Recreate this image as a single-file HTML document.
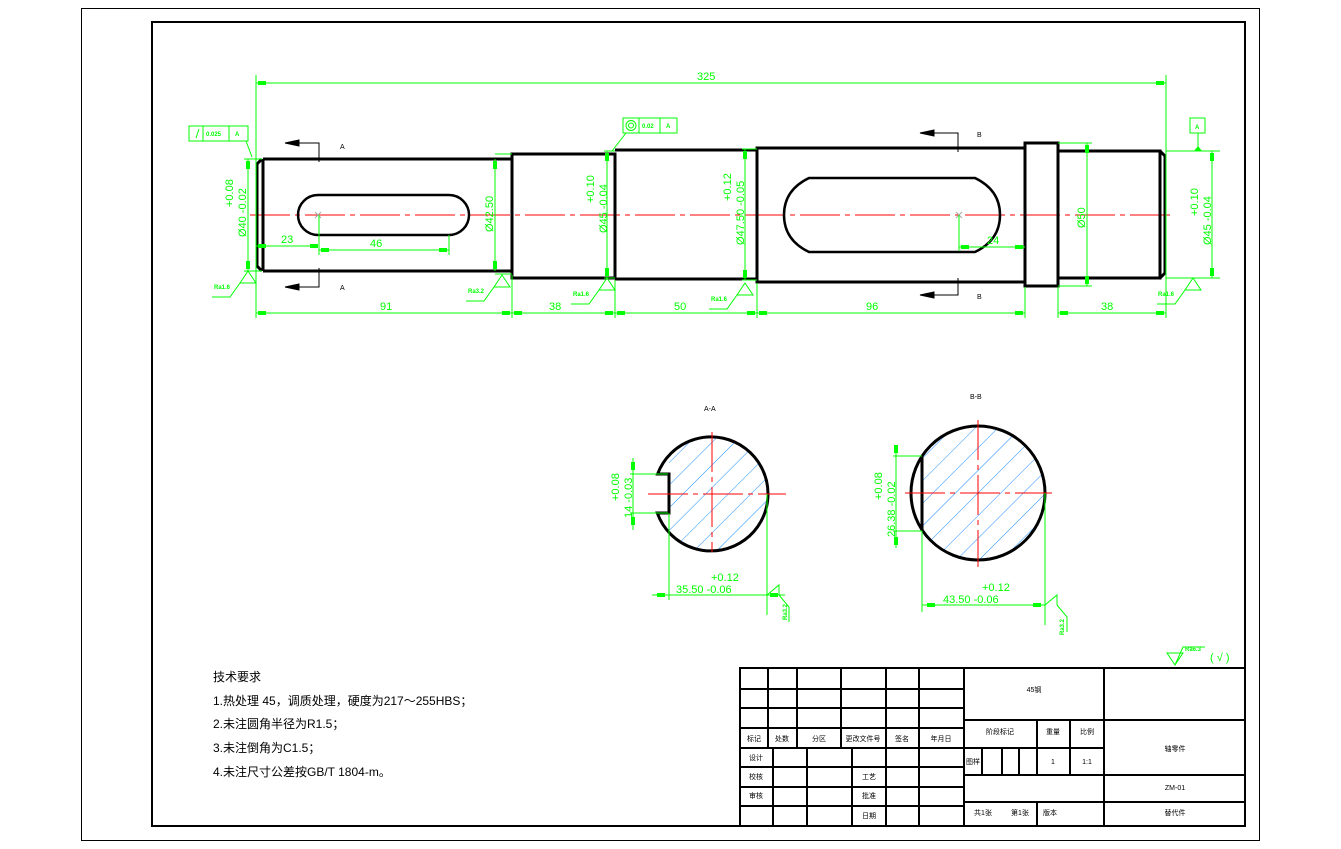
<!DOCTYPE html>
<html><head><meta charset="utf-8"><style>
html,body{margin:0;padding:0;background:#fff;}
svg{display:block;}
.g{stroke:#00ff00;stroke-width:1;fill:none;}
.gt{fill:#00ff00;font-family:"Liberation Sans","Noto Sans CJK SC",sans-serif;font-size:11px;}
.st{fill:#00ff00;font-family:"Liberation Sans",sans-serif;font-size:6px;font-weight:bold;}
.k{stroke:#000;stroke-width:3;fill:none;}
.kt{fill:#000;font-family:"Liberation Sans","Noto Sans CJK SC",sans-serif;font-size:7px;}
.c{stroke:#ff0000;stroke-width:1;stroke-dasharray:40 5 5 5;fill:none;}
.tb{stroke:#000;stroke-width:2;fill:none;}
</style></head><body>
<svg width="1341" height="849" viewBox="0 0 1341 849" xmlns="http://www.w3.org/2000/svg">
<defs>
<pattern id="h" patternUnits="userSpaceOnUse" width="16" height="16" patternTransform="rotate(-45)">
<line x1="0" y1="0" x2="16" y2="0" stroke="#1e90ff" stroke-width="1"/>
</pattern>
<clipPath id="ca"><rect x="669" y="430" width="110" height="130"/></clipPath>
<clipPath id="cb"><rect x="922" y="420" width="130" height="150"/></clipPath>
</defs>
<rect x="0" y="0" width="1341" height="849" fill="#fff"/>
<rect x="81.5" y="8.5" width="1178" height="832" fill="none" stroke="#000" stroke-width="1"/>
<rect x="152" y="22" width="1093" height="804" fill="none" stroke="#000" stroke-width="2"/>

<!-- centerline -->
<line class="c" x1="250" y1="215" x2="1172" y2="215"/>

<!-- shaft -->
<g class="k">
<path d="M263,159 L512,159 M263,271 L512,271 M263,159 L263,271"/>
<path d="M262,159 L257,164 L257,266 L262,271"/>
<path d="M512,154 L615,154 L615,278 L512,278 Z"/>
<path d="M512,154 L512,275"/>
<path d="M615,150 L757,150 L757,279 L615,279"/>
<path d="M757,148 L1025,148 L1025,282 L757,282 Z"/>
<path d="M1025,143 L1058,143 L1058,286 L1025,286 Z"/>
<path d="M1058,151 L1160,151 L1160,278 L1058,278"/>
<path d="M1160,151 L1165,156 L1165,273 L1160,278"/>
<path d="M318,195 L449,195 A20,20 0 0 1 449,235 L318,235 A20,20 0 0 1 318,195 Z" stroke-width="2.5"/>
<path d="M809,178 L975,178 Q1000,190 1000,215 Q1000,240 975,252 L809,252 Q784,240 784,215 Q784,190 809,178 Z" stroke-width="2.5"/>
</g>
<g stroke="#aaa" stroke-width="1"><path d="M315,212 l6,6 M321,212 l-6,6 M956,212 l6,6 M962,212 l-6,6"/></g>

<!-- section arrows -->
<g stroke="#000" stroke-width="1" fill="#000">
<path d="M285,143 L319,143 L319,162 M285,287 L319,287 L319,268 M920,133 L958,133 L958,152 M920,295 L958,295 L958,278" fill="none"/>
<path d="M285,143 l14,-3 l0,6 z M285,287 l14,-3 l0,6 z M920,133 l14,-3 l0,6 z M920,295 l14,-3 l0,6 z"/>
</g>
<text class="kt" x="340" y="149">A</text><text class="kt" x="340" y="290">A</text>
<text class="kt" x="977" y="137">B</text><text class="kt" x="977" y="299">B</text>

<!-- green dims -->
<g class="g">
<path d="M256,75 L256,318 M1166,75 L1166,318 M256,83 L1166,83"/>
<path d="M512,275 L512,318 M615,280 L615,318 M757,283 L757,318 M1025,287 L1025,318 M1058,287 L1058,318"/>
<path d="M256,313 L512,313 M512,313 L615,313 M615,313 L757,313 M757,313 L1025,313 M1058,313 L1166,313"/>
<!-- diameters -->
<path d="M244,159 L262,159 M244,271 L262,271 M248,159 L248,271"/>
<path d="M495,154 L512,154 M495,274 L512,274 M495,159 L495,271"/>
<path d="M604,151 L615,151 M604,278 L615,278 M607,151 L607,278"/>
<path d="M742,149 L757,149 M742,280 L757,280 M745,149 L745,280"/>
<path d="M1058,143 L1092,143 M1058,286 L1092,286 M1087,143 L1087,286"/>
<path d="M1166,151 L1220,151 M1166,278 L1220,278 M1212,151 L1212,278"/>
<!-- key dims -->
<path d="M256,246 L318,246 M319,215 L319,255 M319,250 L449,250 M449,235 L449,255"/>
<path d="M959,215 L959,251 M959,247 L1025,247"/>
<!-- GD&T -->
<path d="M189,126 L248,126 L248,141 L189,141 Z M203,126 L203,141 M229,126 L229,141 M246,141 L252,157"/>
<path d="M196,138 L199,129"/>
<path d="M623,118 L677,118 L677,133 L623,133 Z M639,118 L639,133 M660,118 L660,133 M626,133 L612,151"/>
<circle cx="631" cy="125.5" r="5"/><circle cx="631" cy="125.5" r="2.5"/>
<path d="M1190,118 L1205,118 L1205,133 L1190,133 Z M1198,133 L1198,151"/>
</g>
<!-- arrow blobs -->
<g fill="#00ff00">
<rect x="258" y="81" width="8" height="4"/><rect x="1156" y="81" width="8" height="4"/>
<rect x="258" y="311" width="8" height="4"/><rect x="502" y="311" width="8" height="4"/>
<rect x="514" y="311" width="8" height="4"/><rect x="605" y="311" width="8" height="4"/>
<rect x="617" y="311" width="8" height="4"/><rect x="747" y="311" width="8" height="4"/>
<rect x="759" y="311" width="8" height="4"/><rect x="1015" y="311" width="8" height="4"/>
<rect x="1060" y="311" width="8" height="4"/><rect x="1156" y="311" width="8" height="4"/>
<rect x="246" y="161" width="4" height="8"/><rect x="246" y="261" width="4" height="8"/>
<rect x="493" y="161" width="4" height="8"/><rect x="493" y="261" width="4" height="8"/>
<rect x="605" y="153" width="4" height="8"/><rect x="605" y="268" width="4" height="8"/>
<rect x="743" y="151" width="4" height="8"/><rect x="743" y="270" width="4" height="8"/>
<rect x="1085" y="145" width="4" height="8"/><rect x="1085" y="276" width="4" height="8"/>
<rect x="1210" y="153" width="4" height="8"/><rect x="1210" y="268" width="4" height="8"/>
<rect x="258" y="244" width="8" height="4"/><rect x="310" y="244" width="8" height="4"/>
<rect x="321" y="248" width="8" height="4"/><rect x="439" y="248" width="8" height="4"/>
<rect x="961" y="245" width="8" height="4"/><rect x="1015" y="245" width="8" height="4"/>
<path d="M1194,151 l4,-5 l4,5 z"/>
</g>
<g class="gt">
<text x="697" y="80">325</text>
<text x="380" y="310">91</text><text x="549" y="310">38</text><text x="674" y="310">50</text>
<text x="866" y="310">96</text><text x="1101" y="310">38</text>
<text x="281" y="243">23</text><text x="370" y="247">46</text><text x="987" y="244">24</text>
<text transform="translate(246,237) rotate(-90)">Ø40 -0.02</text>
<text transform="translate(233,207) rotate(-90)">+0.08</text>
<text transform="translate(493,232) rotate(-90)">Ø42.50</text>
<text transform="translate(607,233) rotate(-90)">Ø45 -0.04</text>
<text transform="translate(594,203) rotate(-90)">+0.10</text>
<text transform="translate(744,245) rotate(-90)">Ø47.50 -0.05</text>
<text transform="translate(731,201) rotate(-90)">+0.12</text>
<text transform="translate(1085,228) rotate(-90)">Ø50</text>
<text transform="translate(1211,245) rotate(-90)">Ø45 -0.04</text>
<text transform="translate(1198,216) rotate(-90)">+0.10</text>
</g>
<g class="st"><text x="206" y="136">0.025</text><text x="235" y="136">A</text>
<text x="642" y="128">0.02</text><text x="666" y="128">A</text><text x="1195" y="129">A</text></g>

<!-- roughness marks -->
<g class="g">
<path d="M248,271 l-8,12 l16,0 z M240,283 l-10,14 l-18,0"/>
<path d="M502,275 l-8,12 l16,0 z M494,287 l-10,14 l-18,0"/>
<path d="M607,278 l-8,12 l16,0 z M599,290 l-10,14 l-18,0"/>
<path d="M745,283 l-8,12 l16,0 z M737,295 l-10,14 l-18,0"/>
<path d="M1193,278 l-8,12 l16,0 z M1185,290 l-10,14 l-18,0"/>
</g>
<g class="st"><text x="214" y="289">Ra1.6</text><text x="468" y="293">Ra3.2</text><text x="573" y="296">Ra1.6</text>
<text x="711" y="301">Ra1.6</text><text x="1158" y="296">Ra1.6</text></g>

<!-- Section A-A -->
<text class="kt" x="704" y="411">A-A</text>
<path d="M657.6,474 L669,474 L669,513 L657.3,513 A57,57 0 1 0 657.6,474 Z" fill="url(#h)" stroke="none" clip-path="url(#ca)"/>
<path class="k" d="M657.6,474 L669,474 L669,513 L657.3,513 A57,57 0 1 0 657.6,474 Z" stroke-width="2.5"/>
<path class="c" d="M648,494 L786,494 M712,432 L712,552" stroke-dasharray="22 4 4 4"/>
<g class="g">
<path d="M630,474 L668,474 M630,513 L668,513 M633,458 L633,530"/>
<path d="M669,513 L669,600 M767,494 L767,615 M652,595 L785,595"/>
<path d="M767,595 l12,-10 l0,10 M779,595 l10,12 l0,15"/>
</g>
<g fill="#00ff00"><rect x="631" y="462" width="4" height="8"/><rect x="631" y="517" width="4" height="8"/>
<rect x="657" y="593" width="8" height="4"/><rect x="770" y="593" width="8" height="4"/></g>
<g class="gt">
<text transform="translate(632,518) rotate(-90)">14 -0.03</text>
<text transform="translate(619,501) rotate(-90)">+0.08</text>
<text x="711" y="581">+0.12</text><text x="676" y="593">35.50 -0.06</text>
</g>
<text class="st" transform="translate(787,620) rotate(-90)">Ra3.2</text>

<!-- Section B-B -->
<text class="kt" x="970" y="399">B-B</text>
<circle cx="978" cy="493" r="67" fill="url(#h)" clip-path="url(#cb)"/>
<circle class="k" cx="978" cy="493" r="67" stroke-width="2.5"/>
<line class="k" x1="922" y1="456" x2="922" y2="531"/>
<path class="c" d="M905,493 L1052,493 M978,420 L978,567" stroke-dasharray="22 4 4 4"/>
<g class="g">
<path d="M893,456 L922,456 M893,531 L922,531 M896,445 L896,548"/>
<path d="M922,531 L922,612 M1045,493 L1045,625 M922,605 L1045,605"/>
<path d="M1045,605 l12,-10 l0,10 M1057,605 l10,12 l0,15"/>
</g>
<g fill="#00ff00"><rect x="894" y="445" width="4" height="8"/><rect x="894" y="537" width="4" height="8"/>
<rect x="927" y="603" width="8" height="4"/><rect x="1033" y="603" width="8" height="4"/></g>
<g class="gt">
<text transform="translate(895,537) rotate(-90)">26.38 -0.02</text>
<text transform="translate(882,500) rotate(-90)">+0.08</text>
<text x="982" y="591">+0.12</text><text x="943" y="603">43.50 -0.06</text>
</g>
<text class="st" transform="translate(1064,635) rotate(-90)">Ra3.2</text>

<!-- top-right roughness -->
<g class="g"><path d="M1167,653 L1183,653 L1175,665 Z M1175,665 L1183,647 L1205,647"/></g>
<text class="st" x="1185" y="651">Ra6.3</text>
<text class="gt" x="1210" y="661">(  √  )</text>

<!-- technical requirements -->
<g font-family="'Liberation Sans','Noto Sans CJK SC',sans-serif" font-size="12" fill="#000">
<text x="213" y="681">技术要求</text>
<text x="213" y="705">1.热处理 45，调质处理，硬度为217～255HBS；</text>
<text x="213" y="728">2.未注圆角半径为R1.5；</text>
<text x="213" y="752">3.未注倒角为C1.5；</text>
<text x="213" y="776">4.未注尺寸公差按GB/T 1804-m。</text>
</g>

<!-- title block -->
<g class="tb">
<rect x="740" y="668" width="505" height="158"/>
<path d="M740,689 L964,689 M740,708 L964,708 M740,728 L964,728 M740,748 L964,748 M740,767 L964,767 M740,787 L964,787 M740,806 L964,806"/>
<path d="M768,668 L768,748 M797,668 L797,748 M841,668 L841,748 M886,668 L886,748 M919,668 L919,748"/>
<path d="M773,748 L773,826 M807,748 L807,826 M852,748 L852,826 M886,748 L886,826 M919,748 L919,826"/>
<path d="M964,668 L964,826 M1104,668 L1104,826"/>
<path d="M964,720 L1245,720 M964,748 L1104,748 M964,775 L1245,775 M964,802 L1245,802"/>
<path d="M1037,720 L1037,775 M1070,720 L1070,775 M982,748 L982,775 M1002,748 L1002,775 M1019,748 L1019,775 M1037,802 L1037,826"/>
</g>
<g class="kt" font-size="6" text-anchor="middle">
<text x="754" y="741">标记</text><text x="782" y="741">处数</text><text x="819" y="741">分区</text>
<text x="863" y="741">更改文件号</text><text x="902" y="741">签名</text><text x="941" y="741">年月日</text>
<text x="756" y="760">设计</text><text x="756" y="779">校核</text><text x="756" y="798">审核</text>
<text x="869" y="779">工艺</text><text x="869" y="798">批准</text><text x="869" y="818">日期</text>
<text x="1000" y="734">阶段标记</text><text x="1053" y="734">重量</text><text x="1087" y="734">比例</text>
<text x="973" y="764">图样</text><text x="1053" y="764">1</text><text x="1087" y="764">1:1</text>
<text x="983" y="815">共1张</text><text x="1020" y="815">第1张</text><text x="1050" y="815">版本</text>
<text x="1034" y="692">45钢</text>
<text x="1175" y="751">轴零件</text><text x="1175" y="790">ZM-01</text><text x="1175" y="815">替代件</text>
</g>
</svg>
</body></html>
